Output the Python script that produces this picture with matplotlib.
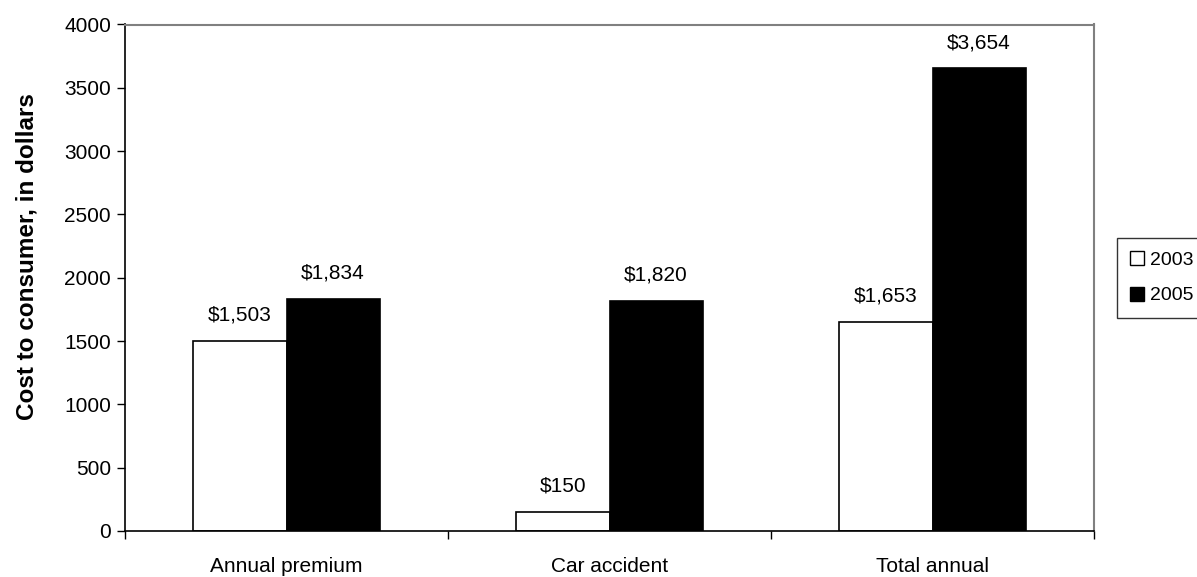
import matplotlib
matplotlib.use("Agg")
import matplotlib.pyplot as plt
import numpy as np
from matplotlib.lines import Line2D

plt.rcParams['font.family'] = ['Liberation Sans', 'DejaVu Sans']

categories = ["Annual premium", "Car accident", "Total annual"]
years = ["2003", "2005"]
values_2003 = [1503, 150, 1653]
values_2005 = [1834, 1820, 3654]
labels_2003 = ["$1,503", "$150", "$1,653"]
labels_2005 = ["$1,834", "$1,820", "$3,654"]
yticks = [0, 500, 1000, 1500, 2000, 2500, 3000, 3500, 4000]

fig = plt.figure(figsize=(11.97, 5.77), dpi=100)
ax = fig.add_axes([125/1197, 1-531/577, (1094-125)/1197, (531-24.5)/577])

x = np.arange(len(categories))
w = 0.288
ax.bar(x - w/2, values_2003, w, color="white", edgecolor="black", linewidth=1.2, zorder=2)
ax.bar(x + w/2, values_2005, w, color="black", edgecolor="black", linewidth=1.2, zorder=2)

for xi, v, s in zip(x - w/2, values_2003, labels_2003):
    ax.annotate(s, (xi, v), xytext=(0, 14.5), textcoords="offset points",
                ha="center", va="baseline", fontsize=15)
for xi, v, s in zip(x + w/2, values_2005, labels_2005):
    ax.annotate(s, (xi, v), xytext=(0, 14.5), textcoords="offset points",
                ha="center", va="baseline", fontsize=15)

ax.set_xlim(-0.5, 2.5)
ax.set_ylim(0, 4000)
ax.set_yticks(yticks)
ax.set_yticklabels([str(t) for t in yticks], fontsize=15)
ax.set_xticks(x)
ax.set_xticklabels(categories, fontsize=15)
ax.tick_params(axis="x", which="major", length=0, pad=19)
ax.set_xticks([-0.5, 0.5, 1.5, 2.5], minor=True)
ax.tick_params(axis="x", which="minor", length=6, width=1, direction="out")
ax.tick_params(axis="y", length=6, width=1, direction="out", pad=4)

for side in ["top", "right"]:
    ax.spines[side].set_color("#808080")
    ax.spines[side].set_linewidth(1.5)
for side in ["left", "bottom"]:
    ax.spines[side].set_color("black")
    ax.spines[side].set_linewidth(1.2)

ax.set_ylabel("Cost to consumer, in dollars", fontsize=17.5, fontweight="bold",
              va="center")
ax.yaxis.set_label_coords((27 - 125) / 969, (531 - 257) / 506.5)

handles = [
    Line2D([], [], marker="s", linestyle="none", markersize=10, markerfacecolor="white", markeredgecolor="black"),
    Line2D([], [], marker="s", linestyle="none", markersize=10, markerfacecolor="black", markeredgecolor="black"),
]
leg = fig.legend(handles, years, loc="upper left", bbox_to_anchor=(1117/1197, 1-238/577),
                 frameon=True, fancybox=False, edgecolor="black", fontsize=14,
                 handlelength=0.7, handletextpad=0.3, borderpad=0.7, labelspacing=0.9,
                 borderaxespad=0)
leg.get_frame().set_linewidth(1.0)

fig.savefig("out.png", dpi=100)
